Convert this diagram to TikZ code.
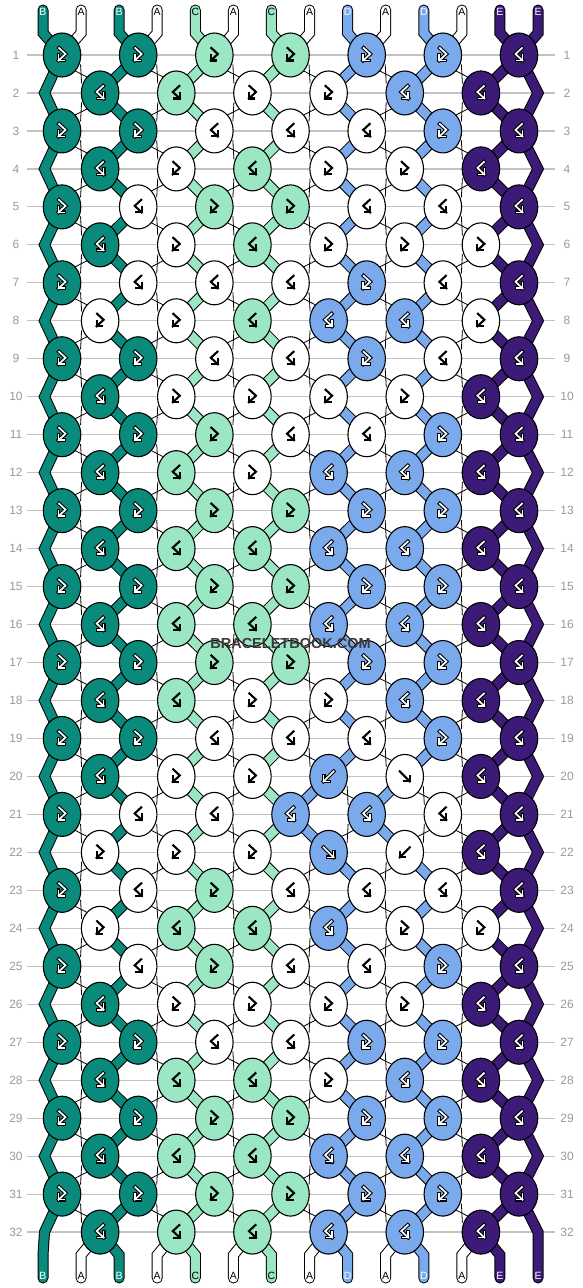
\documentclass[tikz,border=0pt]{standalone}
\usepackage{fontspec}
\setmainfont{Liberation Sans}
\usetikzlibrary{shapes.geometric,calc}
\definecolor{colB}{HTML}{0A8A7A}
\definecolor{colA}{HTML}{FFFFFF}
\definecolor{colC}{HTML}{9BE7C4}
\definecolor{colD}{HTML}{7AA9EC}
\definecolor{colE}{HTML}{3C1A78}
\definecolor{gridc}{HTML}{C2C2C2}
\definecolor{numc}{HTML}{9A9A9A}
\definecolor{wmc}{HTML}{3A3A3A}

\newcommand\setrow[2]{\expandafter\def\csname rc#1\endcsname{#2}}
\def\Rfull{FB,FB,FC,FC,FD,FD,BE}
\def\Efull{BB,BC,BC,BD,BD,BE}
\setrow{1}{\Rfull}
\setrow{2}{BB,BC,FA,FA,BD,BE}
\setrow{3}{FB,FB,BA,BA,BA,FD,BE}
\setrow{4}{BB,FA,BC,FA,FA,BE}
\setrow{5}{FB,BA,FC,FC,BA,BA,BE}
\setrow{6}{BB,FA,BC,FA,FA,FA}
\setrow{7}{FB,BA,BA,BA,FD,BA,BE}
\setrow{8}{FA,FA,BC,BD,BD,FA}
\setrow{9}{FB,FB,BA,BA,FD,BA,BE}
\setrow{10}{BB,FA,FA,FA,FA,BE}
\setrow{11}{FB,FB,FC,BA,BA,FD,BE}
\setrow{12}{BB,BC,FA,BD,BD,BE}
\setrow{13}{\Rfull}
\setrow{14}{\Efull}
\setrow{15}{\Rfull}
\setrow{16}{\Efull}
\setrow{17}{\Rfull}
\setrow{18}{BB,BC,FA,FA,BD,BE}
\setrow{19}{FB,FB,BA,BA,BA,FD,BE}
\setrow{20}{BB,FA,FA,bD,fA,BE}
\setrow{21}{FB,BA,BA,BD,BD,BA,BE}
\setrow{22}{FA,FA,FA,fD,bA,BE}
\setrow{23}{FB,BA,FC,BA,BA,BA,BE}
\setrow{24}{FA,BC,BC,BD,FA,FA}
\setrow{25}{FB,BA,FC,BA,BA,FD,BE}
\setrow{26}{BB,FA,FA,FA,FA,BE}
\setrow{27}{FB,FB,BA,BA,FD,FD,BE}
\setrow{28}{BB,BC,BC,FA,BD,BE}
\setrow{29}{\Rfull}
\setrow{30}{\Efull}
\setrow{31}{\Rfull}
\setrow{32}{\Efull}

\newcommand\parsecode[2]{\def\ktype{#1}\def\kcol{#2}}
\newcommand\segcol[2]{%
  \edef\segc{\ifcase#1 B\or A\or B\or A\or C\or A\or C\or A\or D\or A\or D\or A\or E\or E\fi}%
  \ifnum#2>19 \ifnum#2<22
    \ifcase#1\or\or\or\or\or\or\or \def\segc{D}\or \def\segc{A}\or \def\segc{D}\or \def\segc{A}\fi
  \fi\fi}
\newcommand\gpath[1]{%
  \if F\ktype \draw[#1] (-3,-7)--(3.5,-1)--(-3.5,5.5); \draw[#1] (-3.5,0)--(-3.5,5.5)--(2,5.5); \fi
  \if B\ktype \draw[#1] (3,-7)--(-3.5,-1)--(3.5,5.5); \draw[#1] (3.5,0)--(3.5,5.5)--(-2,5.5); \fi
  \if f\ktype \draw[#1] (-5,-5)--(5,5); \draw[#1] (5,-0.5)--(5,5)--(-0.5,5); \fi
  \if b\ktype \draw[#1] (5,-5)--(-5,5); \draw[#1] (-5,-0.5)--(-5,5)--(0.5,5); \fi
}

\begin{document}
\begin{tikzpicture}[x=1pt,y=-1pt,
  knot/.style={ellipse, draw=black, line width=1.1, minimum width=37.5, minimum height=44, inner sep=0pt},
  bandout/.style={draw=black, line width=11, line join=miter, line cap=butt},
  bandin/.style={line width=9, line join=miter, line cap=butt},
  wline/.style={draw=black, line width=0.8},
  glo/.style={draw=black, line width=3.8, line cap=rect, line join=miter},
  gli/.style={draw=white, line width=1.7, line cap=rect, line join=miter},
  glb/.style={draw=black, line width=2.1, line cap=rect, line join=miter},
  gridl/.style={draw=gridc, line width=1.2},
  rownum/.style={text=numc, font=\fontsize{12}{12}\selectfont, inner sep=0pt},
  strlab/.style={font=\fontsize{10.5}{10.5}\selectfont, inner sep=0pt},
]
\useasboundingbox[fill=white] (0,0) rectangle (582,1288);

% coordinates of every string position at every row
\foreach \p in {0,...,13}{
  \coordinate (t-\p) at ({43+38.08*\p},10);
  \coordinate (p-0-\p) at ({43+38.08*\p},33);
  \coordinate (p-33-\p) at ({43+38.08*\p},1255);
  \coordinate (b-\p) at ({43+38.08*\p},1278);
}
\foreach \r in {1,...,32}{
  \foreach \p in {0,...,13}{
    \ifodd\r\relax
      \coordinate (p-\r-\p) at ({62.04+76.16*int(\p/2)},{17.03+37.97*\r});
    \else
      \ifnum\p=0\relax \coordinate (p-\r-\p) at (44.5,{17.03+37.97*\r});
      \else\ifnum\p=13\relax \coordinate (p-\r-\p) at (538,{17.03+37.97*\r});
      \else \coordinate (p-\r-\p) at ({100.12+76.16*int((\p-1)/2)},{17.03+37.97*\r});
      \fi\fi
    \fi
  }
}

% grid lines and row numbers
\foreach \r in {1,...,32}{
  \draw[gridl] (27,{17.03+37.97*\r}) -- (555,{17.03+37.97*\r});
  \node[rownum] (nl-\r) at (16,{17.03+37.97*\r}) {\r};
  \node[rownum] (nr-\r) at (567,{17.03+37.97*\r}) {\r};
}

% edge strings
\draw[bandout, line cap=round] (t-0) \foreach \r in {0,...,33}{ -- (p-\r-0)} -- (b-0);
\draw[bandin, draw=colB, line cap=round] (t-0) \foreach \r in {0,...,33}{ -- (p-\r-0)} -- (b-0);
\draw[bandout, line cap=round] (t-13) \foreach \r in {0,...,33}{ -- (p-\r-13)} -- (b-13);
\draw[bandin, draw=colE, line cap=round] (t-13) \foreach \r in {0,...,33}{ -- (p-\r-13)} -- (b-13);

% top and bottom stubs
\foreach \p in {1,...,12}{
  \segcol{\p}{0}
  \draw[bandout, line cap=round] (t-\p) -- (p-0-\p) -- (p-1-\p);
  \draw[bandin, line cap=round, draw=col\segc] (t-\p) -- (p-0-\p) -- (p-1-\p);
  \draw[bandout, line cap=round] (p-32-\p) -- (p-33-\p) -- (b-\p);
  \draw[bandin, line cap=round, draw=col\segc] (p-32-\p) -- (p-33-\p) -- (b-\p);
}

% inner string segments
\foreach \r in {1,...,31}{
  \pgfmathtruncatemacro\rnext{\r+1}
  \foreach \p in {1,...,12}{
    \segcol{\p}{\r}
    \if A\segc
      \draw[wline] ($(p-\r-\p)!0.25!(p-\rnext-\p)+(9,0)$) -- ($(p-\r-\p)!0.75!(p-\rnext-\p)+(-9,0)$);
      \draw[wline] ($(p-\r-\p)!0.25!(p-\rnext-\p)+(-9,0)$) -- ($(p-\r-\p)!0.75!(p-\rnext-\p)+(9,0)$);
    \else
      \draw[bandout] (p-\r-\p) -- (p-\rnext-\p);
      \draw[bandin, draw=col\segc] (p-\r-\p) -- (p-\rnext-\p);
    \fi
  }
}

% knots
\foreach \r in {1,...,32}{
  \edef\codes{\csname rc\r\endcsname}
  \foreach \kc [count=\ki from 0] in \codes {
    \expandafter\parsecode\kc
    \ifodd\r\relax \pgfmathtruncatemacro\pos{2*\ki}\else\pgfmathtruncatemacro\pos{2*\ki+1}\fi
    \node[knot, fill=col\kcol] (k-\r-\ki) at (p-\r-\pos) {};
    \begin{scope}[shift={(k-\r-\ki.center)}]
      \if A\kcol \gpath{glb}\else\if C\kcol \gpath{glb}\else
        \gpath{glo}\gpath{gli}\fi\fi
    \end{scope}
  }
}

% string labels
\foreach \p/\lab in {0/B,1/A,2/B,3/A,4/C,5/A,6/C,7/A,8/D,9/A,10/D,11/A,12/E,13/E}{
  \def\tc{white}
  \if A\lab\def\tc{black}\fi
  \if C\lab\def\tc{black}\fi
  \node[strlab, text=\tc] (lt-\p) at ({43+38.08*\p},12) {\lab};
  \node[strlab, text=\tc] (lb-\p) at ({43+38.08*\p},1276) {\lab};
}

% watermark
\node[font=\bfseries\fontsize{14.5}{14.5}\selectfont, text=wmc, inner sep=0pt] (wm) at (290.5,643) {BRACELETBOOK.COM};
\end{tikzpicture}
\end{document}
